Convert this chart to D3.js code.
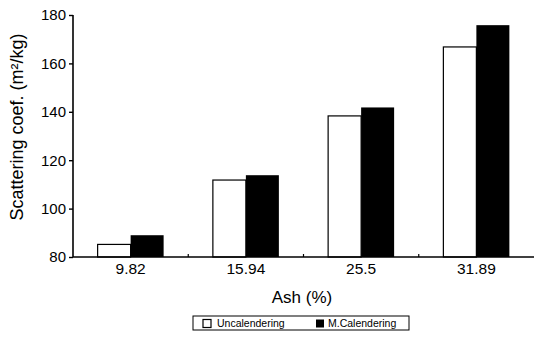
<!DOCTYPE html>
<html>
<head>
<meta charset="utf-8">
<script src="https://d3js.org/d3.v7.min.js"></script>
<style>
  body { margin: 0; background: #fff; }
  text { font-family: "Liberation Sans", Arial, sans-serif; fill: #000; }
</style>
</head>
<body>
<div id="chart"></div>
<script>
const ash = ["9.82", "15.94", "25.5", "31.89"];
const uncalendering = [85.2, 111.8, 138.3, 166.8];
const mCalendering = [89.0, 113.8, 141.8, 175.8];
const seriesNames = ["Uncalendering", "M.Calendering"];
const yTicks = [80, 100, 120, 140, 160, 180];

const W = 534, H = 337;

const svg = d3.select("#chart").append("svg")
  .attr("width", W).attr("height", H);

const x = d3.scaleBand().domain(ash).range([73, 534]).paddingInner(0).paddingOuter(0);
const y = d3.scaleLinear().domain([80, 180]).range([257, 15]);

const barW = 33;

// bars
const groups = svg.append("g").selectAll("g")
  .data(ash).enter().append("g")
  .attr("transform", d => `translate(${x(d) + x.bandwidth() / 2},0)`);

groups.append("rect")
  .attr("x", -barW)
  .attr("y", (d, i) => y(uncalendering[i]))
  .attr("width", barW)
  .attr("height", (d, i) => y(80) - y(uncalendering[i]))
  .attr("fill", "#fff").attr("stroke", "#000").attr("stroke-width", 1.2);

groups.append("rect")
  .attr("x", 0)
  .attr("y", (d, i) => y(mCalendering[i]))
  .attr("width", barW)
  .attr("height", (d, i) => y(80) - y(mCalendering[i]))
  .attr("fill", "#000");

// y axis
const yAxis = svg.append("g")
  .attr("transform", "translate(73,0)")
  .call(d3.axisLeft(y).tickValues(yTicks).tickSize(4).tickPadding(3));
yAxis.select(".domain").attr("stroke-width", 1.6).attr("d", "M0,15V257");
yAxis.selectAll(".tick line").attr("stroke-width", 1.4);
yAxis.selectAll("text").style("font-size", "15px")
  .attr("font-family", "Liberation Sans, Arial, sans-serif");

// x axis
const xAxis = svg.append("g")
  .attr("transform", "translate(0,257)")
  .call(d3.axisBottom(x).tickSize(0).tickPadding(6));
xAxis.select(".domain").attr("stroke-width", 1.6).attr("d", "M73,0H534");
xAxis.selectAll("text").style("font-size", "15.5px")
  .attr("font-family", "Liberation Sans, Arial, sans-serif");

// small inner ticks at category boundaries
svg.append("g").selectAll("line")
  .data(ash.slice(1)).enter().append("line")
  .attr("x1", d => x(d)).attr("x2", d => x(d))
  .attr("y1", 257).attr("y2", 254)
  .attr("stroke", "#000").attr("stroke-width", 1.2);

// axis titles
svg.append("text")
  .attr("x", 302).attr("y", 303)
  .attr("text-anchor", "middle")
  .style("font-size", "17px")
  .text("Ash (%)");

svg.append("text")
  .attr("transform", "translate(23,127) rotate(-90)")
  .attr("text-anchor", "middle")
  .style("font-size", "18px")
  .text("Scattering coef. (m²/kg)");

// legend
const lg = svg.append("g").attr("transform", "translate(193,316)");
lg.append("rect").attr("width", 216).attr("height", 14)
  .attr("fill", "#fff").attr("stroke", "#000").attr("stroke-width", 1);
lg.append("rect").attr("x", 10).attr("y", 3.5).attr("width", 8).attr("height", 8)
  .attr("fill", "#fff").attr("stroke", "#000").attr("stroke-width", 1.2);
lg.append("text").attr("x", 24).attr("y", 11).style("font-size", "10.5px").text(seriesNames[0]);
lg.append("rect").attr("x", 123).attr("y", 3.5).attr("width", 8).attr("height", 8)
  .attr("fill", "#000");
lg.append("text").attr("x", 135).attr("y", 11).style("font-size", "10.5px").text(seriesNames[1]);
</script>
</body>
</html>
